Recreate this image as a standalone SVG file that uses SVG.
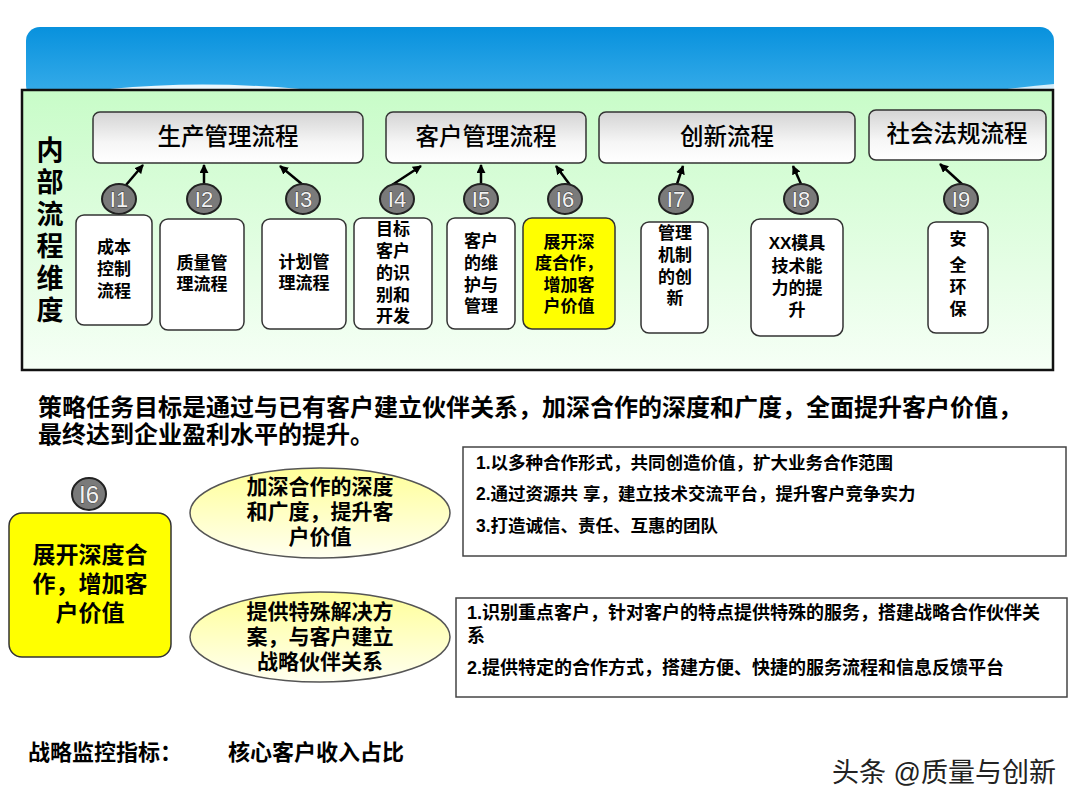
<svg xmlns="http://www.w3.org/2000/svg" width="1080" height="810" viewBox="0 0 1080 810">
<defs>
<linearGradient id="gBanner" x1="0" y1="0" x2="0" y2="1"><stop offset="0" stop-color="#0891dd"/><stop offset="1" stop-color="#3aaeea"/></linearGradient>
<linearGradient id="gGreen" x1="0" y1="0" x2="0" y2="1"><stop offset="0" stop-color="#c8fcc8"/><stop offset="1" stop-color="#f6fff6"/></linearGradient>
<linearGradient id="gHead" x1="0" y1="0" x2="0" y2="1"><stop offset="0" stop-color="#d4d4d4"/><stop offset="0.6" stop-color="#f6f6f6"/><stop offset="1" stop-color="#ffffff"/></linearGradient>
<linearGradient id="gEll" x1="0" y1="0" x2="0" y2="1"><stop offset="0" stop-color="#ffff99"/><stop offset="1" stop-color="#fffff0"/></linearGradient>
<marker id="arr" viewBox="0 0 10 10" refX="9" refY="5" markerWidth="9" markerHeight="9" markerUnits="userSpaceOnUse" orient="auto"><path d="M0,0 L10,5 L0,10 z" fill="#000"/></marker>
</defs>
<style>
text{font-family:"Liberation Sans","Noto Sans CJK SC",sans-serif;fill:#000}
.head rect{fill:url(#gHead);stroke:#333;stroke-width:1.5}
.head text{font-size:23.5px;font-weight:500;font-family:"Noto Sans CJK SC",sans-serif;text-anchor:middle}
.leaf rect{fill:#fff;stroke:#333;stroke-width:1.5}
.leaf text{font-size:17px;font-weight:bold;text-anchor:middle}
.hl rect{fill:#ffff00}
.tag ellipse{fill:#7a7a7a;stroke:#222;stroke-width:2}
.tag text{font-size:22px;fill:#f2f2f2;stroke:#333;stroke-width:0.8;paint-order:stroke;text-anchor:middle}
.conn line{stroke:#000;stroke-width:2.5;marker-end:url(#arr)}
.ell ellipse{fill:url(#gEll);stroke:#555;stroke-width:1.5}
.ell text{font-size:21px;font-weight:bold;text-anchor:middle}
.note rect{fill:#fff;stroke:#444;stroke-width:1.5}
.note text{font-weight:bold}
.big{font-size:24px;font-weight:bold}
</style>
<rect width="1080" height="810" fill="#fff"/>
<g id="banner">
<rect x="26" y="27" width="1028" height="72" rx="14" fill="url(#gBanner)"/>
<path d="M110,89 Q200,80 300,89 Z" fill="#fff" opacity="0.9"/>
<path d="M1000,90 Q1030,86 1054,84 L1054,90 Z" fill="#fff" opacity="0.8"/>
</g>
<g id="panel">
<rect x="22" y="90" width="1031" height="280" fill="url(#gGreen)" stroke="#111" stroke-width="2.5"/>
<text class="big" style="font-size:27px" text-anchor="middle"><tspan x="50" y="160">内</tspan><tspan x="50" y="192">部</tspan><tspan x="50" y="224">流</tspan><tspan x="50" y="256">程</tspan><tspan x="50" y="288">维</tspan><tspan x="50" y="320">度</tspan></text>
</g>
<g id="h1" class="head"><rect x="93" y="112" width="270" height="51" rx="7"/><text x="228" y="145">生产管理流程</text></g>
<g id="h2" class="head"><rect x="386" y="112" width="200" height="51" rx="7"/><text x="486" y="145">客户管理流程</text></g>
<g id="h3" class="head"><rect x="599" y="112" width="256" height="51" rx="7"/><text x="727" y="145">创新流程</text></g>
<g id="h4" class="head"><rect x="869" y="110" width="177" height="50" rx="7"/><text x="957" y="142">社会法规流程</text></g>
<g id="connectors" class="conn">
<line x1="126" y1="185" x2="143" y2="165"/>
<line x1="204" y1="184" x2="204" y2="165"/>
<line x1="303" y1="185" x2="280" y2="166"/>
<line x1="392" y1="185" x2="421" y2="166"/>
<line x1="481" y1="184" x2="481" y2="165"/>
<line x1="570" y1="185" x2="556" y2="166"/>
<line x1="677" y1="184" x2="683" y2="166"/>
<line x1="801" y1="184" x2="793" y2="166"/>
<line x1="963" y1="185" x2="940" y2="164"/>
</g>
<g id="t1" class="tag"><ellipse cx="119" cy="199" rx="17" ry="15"/><text x="119" y="207">I1</text></g>
<g id="t2" class="tag"><ellipse cx="204" cy="199" rx="17" ry="15"/><text x="204" y="207">I2</text></g>
<g id="t3" class="tag"><ellipse cx="303" cy="199" rx="17" ry="15"/><text x="303" y="207">I3</text></g>
<g id="t4" class="tag"><ellipse cx="397" cy="199" rx="17" ry="15"/><text x="397" y="207">I4</text></g>
<g id="t5" class="tag"><ellipse cx="481" cy="199" rx="17" ry="15"/><text x="481" y="207">I5</text></g>
<g id="t6" class="tag"><ellipse cx="565" cy="199" rx="17" ry="15"/><text x="565" y="207">I6</text></g>
<g id="t7" class="tag"><ellipse cx="676" cy="199" rx="17" ry="15"/><text x="676" y="207">I7</text></g>
<g id="t8" class="tag"><ellipse cx="801" cy="199" rx="17" ry="15"/><text x="801" y="207">I8</text></g>
<g id="t9" class="tag"><ellipse cx="961" cy="199" rx="17" ry="15"/><text x="961" y="207">I9</text></g>
<g id="l1" class="leaf"><rect x="76" y="215" width="76" height="110" rx="8"/><text><tspan x="114" y="253">成本</tspan><tspan x="114" y="275">控制</tspan><tspan x="114" y="297">流程</tspan></text></g>
<g id="l2" class="leaf"><rect x="160" y="219" width="84" height="111" rx="8"/><text><tspan x="202" y="269">质量管</tspan><tspan x="202" y="290">理流程</tspan></text></g>
<g id="l3" class="leaf"><rect x="262" y="219" width="84" height="110" rx="8"/><text><tspan x="304" y="268">计划管</tspan><tspan x="304" y="289">理流程</tspan></text></g>
<g id="l4" class="leaf"><rect x="354" y="218" width="78" height="111" rx="8"/><text><tspan x="393" y="235">目标</tspan><tspan x="393" y="257">客户</tspan><tspan x="393" y="279">的识</tspan><tspan x="393" y="301">别和</tspan><tspan x="393" y="322">开发</tspan></text></g>
<g id="l5" class="leaf"><rect x="447" y="218" width="68" height="111" rx="8"/><text><tspan x="481" y="247">客户</tspan><tspan x="481" y="269">的维</tspan><tspan x="481" y="291">护与</tspan><tspan x="481" y="312">管理</tspan></text></g>
<g id="l6" class="leaf hl"><rect x="523" y="218" width="92" height="111" rx="9"/><text><tspan x="569" y="248">展开深</tspan><tspan x="569" y="269">度合作，</tspan><tspan x="569" y="291">增加客</tspan><tspan x="569" y="312">户价值</tspan></text></g>
<g id="l7" class="leaf"><rect x="641" y="222" width="67" height="111" rx="8"/><text><tspan x="675" y="239">管理</tspan><tspan x="675" y="261">机制</tspan><tspan x="675" y="283">的创</tspan><tspan x="675" y="304">新</tspan></text></g>
<g id="l8" class="leaf"><rect x="751" y="219" width="92" height="117" rx="9"/><text><tspan x="797" y="249">XX模具</tspan><tspan x="797" y="272">技术能</tspan><tspan x="797" y="294">力的提</tspan><tspan x="797" y="316">升</tspan></text></g>
<g id="l9" class="leaf"><rect x="928" y="222" width="60" height="111" rx="8"/><text><tspan x="958" y="245">安</tspan><tspan x="958" y="271">全</tspan><tspan x="958" y="293">环</tspan><tspan x="958" y="315">保</tspan></text></g>
<g id="goal"><text class="big" x="38" y="416">策略任务目标是通过与已有客户建立伙伴关系，加深合作的深度和广度，全面提升客户价值，</text><text class="big" x="38" y="443">最终达到企业盈利水平的提升。</text></g>
<g id="i6main">
<rect x="9" y="513" width="162" height="144" rx="13" fill="#ffff00" stroke="#333" stroke-width="1.5"/>
<g class="tag"><ellipse cx="89" cy="494" rx="17" ry="16"/><text x="89" y="503" style="font-size:24px">I6</text></g>
<text style="font-size:23px;font-weight:bold" text-anchor="middle"><tspan x="90" y="563">展开深度合</tspan><tspan x="90" y="592">作，增加客</tspan><tspan x="90" y="621">户价值</tspan></text>
</g>
<g id="e1" class="ell"><ellipse cx="320" cy="513" rx="130" ry="45"/><text><tspan x="320" y="494">加深合作的深度</tspan><tspan x="320" y="519">和广度，提升客</tspan><tspan x="320" y="544">户价值</tspan></text></g>
<g id="e2" class="ell"><ellipse cx="320" cy="637" rx="130" ry="45"/><text><tspan x="320" y="619">提供特殊解决方</tspan><tspan x="320" y="644">案，与客户建立</tspan><tspan x="320" y="669">战略伙伴关系</tspan></text></g>
<g id="n1" class="note"><rect x="463" y="447" width="603" height="109"/><text style="font-size:17.5px"><tspan x="476" y="469">1.以多种合作形式，共同创造价值，扩大业务合作范围</tspan><tspan x="476" y="500">2.通过资源共 享，建立技术交流平台，提升客户竞争实力</tspan><tspan x="476" y="532">3.打造诚信、责任、互惠的团队</tspan></text></g>
<g id="n2" class="note"><rect x="456" y="598" width="611" height="99"/><text style="font-size:18px"><tspan x="467" y="619">1.识别重点客户，针对客户的特点提供特殊的服务，搭建战略合作伙伴关</tspan><tspan x="467" y="642">系</tspan><tspan x="467" y="674">2.提供特定的合作方式，搭建方便、快捷的服务流程和信息反馈平台</tspan></text></g>
<g id="kpi"><text style="font-size:22px;font-weight:bold" x="28" y="760">战略监控指标：</text><text style="font-size:22px;font-weight:bold" x="228" y="760">核心客户收入占比</text></g>
<g id="watermark"><text x="832" y="782" style="font-size:27px;fill:#222;stroke:#fff;stroke-width:1.5;paint-order:stroke">头条 @质量与创新</text></g>
</svg>
